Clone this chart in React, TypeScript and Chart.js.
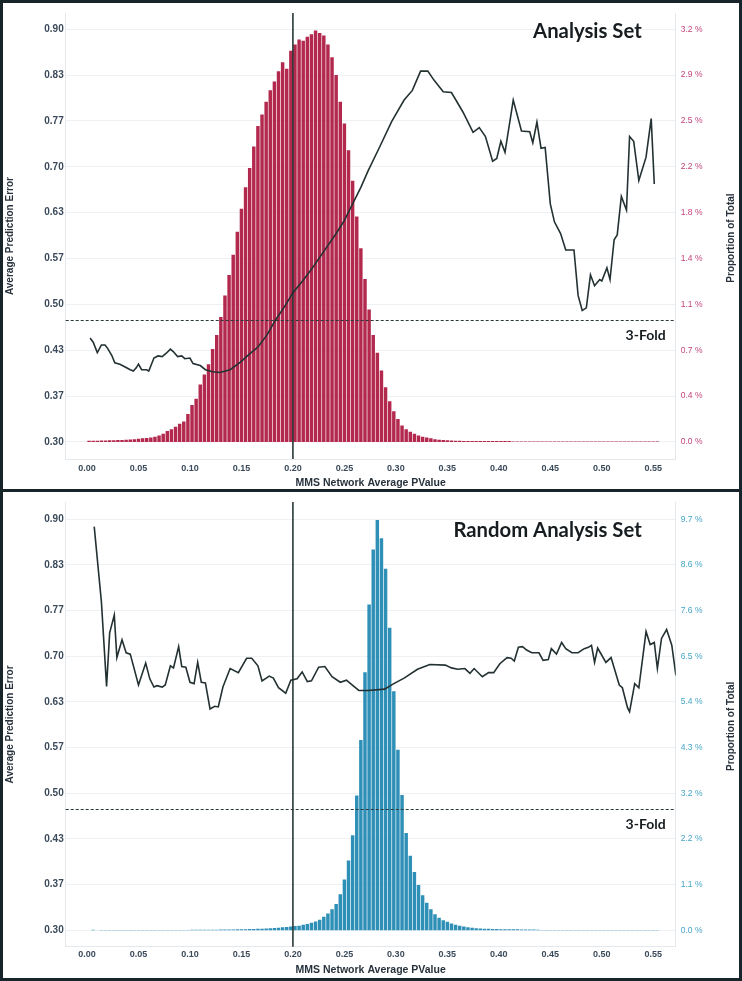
import React, { useEffect, useRef } from 'react';
import { Chart, registerables } from 'chart.js';
Chart.register(...registerables);

const FONT = '"Liberation Sans", Arial, sans-serif';
const TITLE_FONT = 'Lato, "Open Sans", sans-serif';

// histogram bins (centre of first bin, bin width)
const BIN_START = 0.002;
const BIN_WIDTH = 0.004;

const xTickValues = [0, 0.05, 0.1, 0.15, 0.2, 0.25, 0.3, 0.35, 0.4, 0.45, 0.5, 0.55];
const leftTickValues = [0.3, 0.3667, 0.4333, 0.5, 0.5667, 0.6333, 0.7, 0.7667, 0.8333, 0.9];
const topRightTicks = [0, 0.36, 0.72, 1.08, 1.44, 1.8, 2.16, 2.52, 2.88, 3.24];
const bottomRightTicks = [0, 1.08, 2.16, 3.24, 4.32, 5.4, 6.48, 7.56, 8.64, 9.72];

const threeFoldLevel = 0.477;
const cutoffPValue = 0.2;

// Analysis Set: proportion of total (%) per bin
const topBars = [
  0.01, 0.01, 0.01, 0.012, 0.012, 0.013, 0.014, 0.015, 0.016, 0.018,
  0.02, 0.022, 0.025, 0.028, 0.03, 0.035, 0.04, 0.05, 0.065, 0.085,
  0.1, 0.12, 0.142, 0.16, 0.22, 0.29, 0.34, 0.45, 0.53, 0.61,
  0.73, 0.84, 0.98, 1.15, 1.31, 1.47, 1.65, 1.83, 2.0, 2.15,
  2.32, 2.48, 2.57, 2.67, 2.76, 2.83, 2.91, 2.98, 2.93, 3.07,
  3.12, 3.16, 3.15, 3.18, 3.2, 3.23, 3.21, 3.19, 3.12, 3.02,
  2.88, 2.67, 2.5, 2.29, 2.05, 1.77, 1.52, 1.28, 1.04, 0.84,
  0.7, 0.56, 0.43, 0.32, 0.24, 0.18, 0.13, 0.1, 0.08, 0.065,
  0.05, 0.04, 0.035, 0.028, 0.022, 0.018, 0.015, 0.013, 0.011, 0.01,
  0.009, 0.008, 0.008, 0.008, 0.007, 0.007, 0.007, 0.007, 0.007, 0.007,
  0.007, 0.007, 0.007,
  0.004, 0.004, 0.004, 0.004, 0.004, 0.004, 0.004, 0.004, 0.004, 0.004,
  0.004, 0.004, 0.004, 0.004, 0.004, 0.004, 0.004, 0.004, 0.004, 0.004,
  0.004, 0.004, 0.004, 0.004, 0.004, 0.004, 0.004, 0.004, 0.004, 0.004,
  0.004, 0.004, 0.004, 0.004, 0.004, 0.004,
];

// Random Analysis Set: proportion of total (%) per bin
const bottomBars = [
  0, 0.012, 0, 0.01, 0.01, 0.01, 0.01, 0.01, 0.01, 0.01,
  0.01, 0.01, 0.01, 0.01, 0.01, 0.01, 0.01, 0.01, 0.01, 0.01,
  0.01, 0.01, 0.01, 0.01, 0.01, 0.011, 0.012, 0.012, 0.013, 0.014,
  0.015, 0.016, 0.018, 0.02, 0.021, 0.022, 0.023, 0.025, 0.027, 0.03,
  0.033, 0.036, 0.04, 0.045, 0.05, 0.055, 0.06, 0.07, 0.08, 0.09,
  0.1, 0.11, 0.13, 0.15, 0.18, 0.21, 0.25, 0.32, 0.4, 0.5,
  0.62, 0.85, 1.2, 1.65, 2.25, 3.19, 4.5, 6.1, 7.7, 9.0,
  9.7, 9.27, 8.55, 7.15, 5.65, 4.27, 3.2, 2.3, 1.76, 1.38,
  1.07, 0.83, 0.65, 0.5, 0.38, 0.3, 0.24, 0.2, 0.16, 0.13,
  0.11, 0.09, 0.07, 0.06, 0.05, 0.045, 0.04, 0.035, 0.032, 0.03,
  0.028, 0.026, 0.025, 0.024, 0.023, 0.022, 0.021, 0.02, 0.02, 0.015,
  0.01, 0.01, 0.01, 0.01, 0.01, 0.01, 0.01, 0.01, 0.01, 0.01,
  0.01, 0.01, 0.01, 0.01, 0.01, 0.01, 0.01, 0.01, 0.01, 0.01,
  0.01, 0.01, 0.01, 0.01, 0.01, 0.01, 0.01, 0.01, 0.01,
];

// Analysis Set: average prediction error line
const topLineX = [
  0.003, 0.006, 0.01, 0.014, 0.0175, 0.02, 0.024, 0.027, 0.032, 0.037,
  0.042, 0.045, 0.048, 0.05, 0.053, 0.058, 0.06, 0.065, 0.069, 0.073,
  0.077, 0.081, 0.084, 0.088, 0.092, 0.095, 0.1, 0.103, 0.11, 0.115,
  0.122, 0.129, 0.139, 0.149, 0.158, 0.166, 0.175, 0.183, 0.192, 0.2,
  0.21, 0.219, 0.23, 0.242, 0.25, 0.258, 0.266, 0.273, 0.284, 0.296,
  0.308, 0.316, 0.324, 0.331, 0.337, 0.346, 0.354, 0.365, 0.375, 0.381,
  0.387, 0.394, 0.398, 0.402, 0.406, 0.414, 0.422, 0.43, 0.433, 0.437,
  0.441, 0.445, 0.45, 0.454, 0.46, 0.465, 0.473, 0.477, 0.481, 0.485,
  0.489, 0.493, 0.498, 0.5, 0.505, 0.508, 0.512, 0.515, 0.519, 0.524,
  0.527, 0.531, 0.536, 0.543, 0.548, 0.551,
];
const topLineY = [
  0.451, 0.445, 0.43, 0.441, 0.441, 0.436, 0.426, 0.415, 0.413, 0.409,
  0.405, 0.403, 0.408, 0.413, 0.405, 0.405, 0.403, 0.422, 0.425, 0.424,
  0.429, 0.435, 0.431, 0.424, 0.425, 0.421, 0.422, 0.414, 0.411, 0.405,
  0.402, 0.401, 0.405, 0.416, 0.428, 0.438, 0.456, 0.477, 0.497, 0.517,
  0.535, 0.553, 0.577, 0.603, 0.622, 0.646, 0.67, 0.694, 0.728, 0.766,
  0.797, 0.811, 0.839, 0.839, 0.826, 0.809, 0.808, 0.78, 0.75, 0.757,
  0.744, 0.708, 0.712, 0.737, 0.721, 0.797, 0.752, 0.751, 0.735, 0.765,
  0.727, 0.728, 0.646, 0.62, 0.603, 0.579, 0.579, 0.513, 0.491, 0.495,
  0.543, 0.527, 0.536, 0.534, 0.553, 0.536, 0.594, 0.601, 0.657, 0.637,
  0.744, 0.737, 0.68, 0.714, 0.77, 0.675,
];

// Random Analysis Set: average prediction error line
const bottomLineX = [
  0.007, 0.014, 0.019, 0.022, 0.0265, 0.029, 0.034, 0.038, 0.042, 0.05,
  0.057, 0.061, 0.065, 0.068, 0.073, 0.076, 0.081, 0.084, 0.089, 0.092,
  0.096, 0.1, 0.104, 0.1075, 0.111, 0.115, 0.1195, 0.124, 0.1275, 0.132,
  0.139, 0.147, 0.155, 0.16, 0.166, 0.17, 0.177, 0.181, 0.186, 0.193,
  0.198, 0.204, 0.209, 0.214, 0.218, 0.225, 0.231, 0.238, 0.246, 0.252,
  0.256, 0.264, 0.273, 0.289, 0.298, 0.308, 0.321, 0.333, 0.348, 0.354,
  0.36, 0.367, 0.372, 0.376, 0.384, 0.39, 0.395, 0.401, 0.408, 0.412,
  0.415, 0.419, 0.423, 0.427, 0.432, 0.439, 0.443, 0.448, 0.451, 0.456,
  0.461, 0.465, 0.471, 0.477, 0.483, 0.487, 0.49, 0.493, 0.496, 0.504,
  0.509, 0.517, 0.52, 0.525, 0.527, 0.532, 0.536, 0.543, 0.547, 0.551,
  0.554, 0.558, 0.563, 0.568, 0.572,
];
const bottomLineY = [
  0.889, 0.779, 0.656, 0.734, 0.76, 0.698, 0.724, 0.705, 0.703, 0.658,
  0.69, 0.667, 0.655, 0.657, 0.655, 0.658, 0.686, 0.683, 0.714, 0.685,
  0.684, 0.662, 0.66, 0.691, 0.662, 0.661, 0.623, 0.627, 0.626, 0.655,
  0.682, 0.676, 0.697, 0.697, 0.686, 0.664, 0.671, 0.668, 0.654, 0.646,
  0.665, 0.667, 0.677, 0.663, 0.664, 0.684, 0.685, 0.67, 0.662, 0.665,
  0.66, 0.65, 0.65, 0.652, 0.66, 0.668, 0.681, 0.688, 0.687, 0.683,
  0.681, 0.682, 0.675, 0.682, 0.67, 0.676, 0.676, 0.689, 0.698, 0.697,
  0.693, 0.713, 0.714, 0.709, 0.705, 0.705, 0.694, 0.695, 0.711, 0.703,
  0.72, 0.711, 0.705, 0.705, 0.711, 0.713, 0.716, 0.691, 0.712, 0.691,
  0.698, 0.658, 0.654, 0.625, 0.619, 0.66, 0.654, 0.736, 0.717, 0.72,
  0.682, 0.726, 0.739, 0.716, 0.672,
];

type PanelCfg = {
  title: string;
  bars: number[];
  lineX: number[];
  lineY: number[];
  barColor: string;
  rightColor: string;
  rightTicks: number[];
  yMin: number;
  yMax: number;
  padTop: number;
  xHeight: number;
  xTickPad: number;
  xTitlePad: number;
  titleDY: number;
};

const CANVAS_W = 736;
const CANVAS_H = 486;
const LEFT_W = 62.7;
const RIGHT_W = 63.3;

const overlayPlugin = {
  id: 'overlay',
  afterDatasetsDraw(chart: any, _args: any, o: any) {
    const { ctx, chartArea: a, scales } = chart;
    const x = scales.x;
    const y = scales.y;
    ctx.save();
    // vertical cut-off line
    const vx = x.getPixelForValue(o.vLine);
    ctx.strokeStyle = '#1c2929';
    ctx.lineWidth = 1.5;
    ctx.beginPath();
    ctx.moveTo(vx, a.top);
    ctx.lineTo(vx, a.bottom);
    ctx.stroke();
    // 3-fold dashed line
    const hy = Math.round(y.getPixelForValue(o.hLine)) + 0.5;
    ctx.setLineDash([3, 2]);
    ctx.lineWidth = 1;
    ctx.strokeStyle = '#2a3838';
    ctx.beginPath();
    ctx.moveTo(a.left, hy);
    ctx.lineTo(a.right, hy);
    ctx.stroke();
    ctx.setLineDash([]);
    // labels
    ctx.fillStyle = '#161c1f';
    ctx.textAlign = 'right';
    ctx.textBaseline = 'middle';
    ctx.font = `bold 14px ${TITLE_FONT}`;
    ctx.fillText(o.foldLabel, a.right - 10, hy + 15);
    ctx.font = `bold 20.3px ${TITLE_FONT}`;
    ctx.fillText(o.title, a.right - 34, a.top + o.titleDY);
    // right axis title (reads bottom to top)
    ctx.translate(CANVAS_W - 7.3, (a.top + a.bottom) / 2 + 2);
    ctx.rotate(-Math.PI / 2);
    ctx.textAlign = 'center';
    ctx.fillStyle = '#27323c';
    ctx.font = `bold 10px ${FONT}`;
    ctx.fillText(o.rightTitle, 0, 0);
    ctx.restore();
  },
};

function buildConfig(p: PanelCfg): any {
  const rMax = p.rightTicks[p.rightTicks.length - 1];
  const y1Min = ((p.yMin - 0.3) / 0.6) * rMax;
  const y1Max = ((p.yMax - 0.3) / 0.6) * rMax;
  const gridColor = '#edf1f4';
  const borderColor = '#e2e8eb';
  return {
    type: 'bar',
    data: {
      datasets: [
        {
          type: 'line',
          data: p.lineX.map((x, i) => ({ x, y: p.lineY[i] })),
          borderColor: '#243132',
          borderWidth: 1.6,
          pointRadius: 0,
          tension: 0,
          yAxisID: 'y',
          order: 0,
        },
        {
          type: 'bar',
          data: p.bars.map((h, i) => ({ x: BIN_START + i * BIN_WIDTH, y: h })),
          backgroundColor: p.barColor,
          borderWidth: 0,
          barPercentage: 0.84,
          categoryPercentage: 1,
          yAxisID: 'y1',
          order: 1,
        },
      ],
    },
    options: {
      animation: false,
      responsive: false,
      devicePixelRatio: 1,
      layout: { padding: { top: p.padTop, left: 0, right: 0, bottom: 0 } },
      plugins: {
        legend: { display: false },
        tooltip: { enabled: false },
        overlay: {
          vLine: cutoffPValue,
          hLine: threeFoldLevel,
          foldLabel: '3-Fold',
          title: p.title,
          titleDY: p.titleDY,
          rightTitle: 'Proportion of Total',
        },
      },
      scales: {
        x: {
          type: 'linear',
          min: -0.0207,
          max: 0.5718,
          offset: false,
          afterBuildTicks: (s: any) => {
            s.ticks = xTickValues.map((v) => ({ value: v }));
          },
          afterFit: (s: any) => {
            s.height = p.xHeight;
          },
          ticks: {
            callback: (v: any) => Number(v).toFixed(2),
            font: { family: FONT, size: 9, weight: 'bold' },
            color: '#3b4a5a',
            padding: p.xTickPad,
            autoSkip: false,
            maxRotation: 0,
            minRotation: 0,
          },
          grid: { display: false, drawTicks: false },
          border: { display: true, color: borderColor },
          title: {
            display: true,
            text: 'MMS Network Average PValue',
            font: { family: FONT, size: 10.5, weight: 'bold' },
            color: '#27323c',
            padding: { top: 0, bottom: p.xTitlePad },
          },
        },
        y: {
          type: 'linear',
          position: 'left',
          min: p.yMin,
          max: p.yMax,
          afterBuildTicks: (s: any) => {
            s.ticks = leftTickValues.map((v) => ({ value: v }));
          },
          afterFit: (s: any) => {
            s.width = LEFT_W;
          },
          ticks: {
            callback: (v: any) => Number(v).toFixed(2),
            font: { family: FONT, size: 10, weight: 'bold' },
            color: '#3b4a5a',
            padding: 2,
            autoSkip: false,
          },
          grid: { color: gridColor, drawTicks: false, lineWidth: 1 },
          border: { display: true, color: borderColor },
          title: {
            display: true,
            text: 'Average Prediction Error',
            font: { family: FONT, size: 10, weight: 'bold' },
            color: '#27323c',
            padding: { top: 1, bottom: 0 },
          },
        },
        y1: {
          type: 'linear',
          position: 'right',
          min: y1Min,
          max: y1Max,
          afterBuildTicks: (s: any) => {
            s.ticks = p.rightTicks.map((v) => ({ value: v }));
          },
          afterFit: (s: any) => {
            s.width = RIGHT_W;
          },
          ticks: {
            callback: (v: any) => Number(v).toFixed(1) + ' %',
            font: { family: FONT, size: 8.5 },
            color: p.rightColor,
            padding: 5,
            autoSkip: false,
          },
          grid: { display: false, drawTicks: false },
          border: { display: true, color: borderColor },
        },
      },
    },
    plugins: [overlayPlugin],
  };
}

function Panel({ cfg }: { cfg: PanelCfg }) {
  const ref = useRef<HTMLCanvasElement>(null);
  useEffect(() => {
    const chart = new Chart(ref.current as HTMLCanvasElement, buildConfig(cfg));
    return () => chart.destroy();
  }, [cfg]);
  return (
    <canvas
      ref={ref}
      width={CANVAS_W}
      height={CANVAS_H}
      style={{ display: 'block', width: CANVAS_W, height: CANVAS_H }}
    />
  );
}

const topCfg: PanelCfg = {
  title: 'Analysis Set',
  bars: topBars,
  lineX: topLineX,
  lineY: topLineY,
  barColor: '#b3294e',
  rightColor: '#c4437b',
  rightTicks: topRightTicks,
  yMin: 0.2752,
  yMax: 0.9234,
  padTop: 4,
  xHeight: 30,
  xTickPad: 4,
  xTitlePad: 0,
  titleDY: 18.5,
};

const bottomCfg: PanelCfg = {
  title: 'Random Analysis Set',
  bars: bottomBars,
  lineX: bottomLineX,
  lineY: bottomLineY,
  barColor: '#2e8fb7',
  rightColor: '#45a5c6',
  rightTicks: bottomRightTicks,
  yMin: 0.2761,
  yMax: 0.9249,
  padTop: 1.3,
  xHeight: 31.3,
  xTickPad: 2.5,
  xTitlePad: 1.7,
  titleDY: 28.7,
};

export default function App() {
  return (
    <div
      style={{
        position: 'absolute',
        left: 0,
        top: 0,
        width: 742,
        height: 981,
        boxSizing: 'border-box',
        border: '3px solid #17242a',
        background: '#ffffff',
      }}
    >
      <Panel cfg={topCfg} />
      <div style={{ height: 3, background: '#17242a' }} />
      <Panel cfg={bottomCfg} />
    </div>
  );
}
